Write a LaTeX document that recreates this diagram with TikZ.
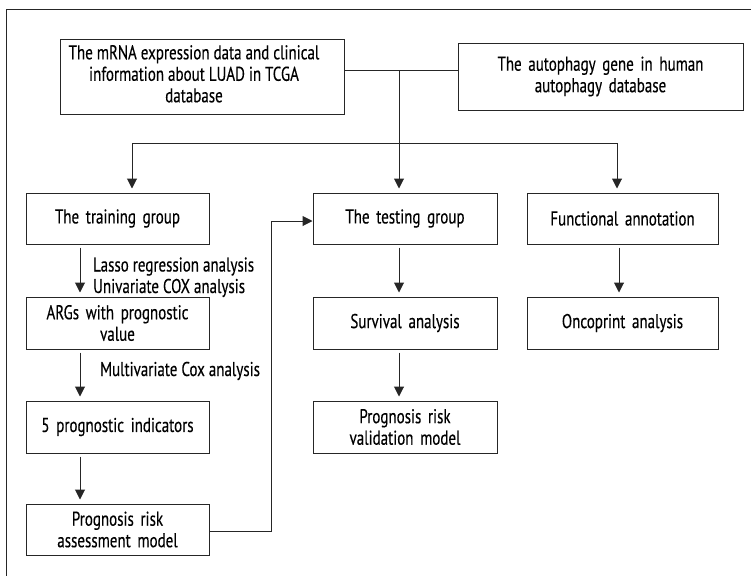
\documentclass[tikz,border=0pt]{standalone}
\usepackage{fontspec}
\setmainfont{PT Sans}[FakeStretch=0.75,FakeBold=0.3]
\usetikzlibrary{arrows.meta}
\begin{document}
\begin{tikzpicture}[x=1pt,y=-1pt,
  box/.style={draw=black!85, line width=1pt, inner sep=0pt, align=center, font=\fontsize{20}{21.5}\selectfont},
  lbl/.style={inner sep=0pt, anchor=base west, font=\fontsize{20}{21.5}\selectfont},
  conn/.style={draw=black!85, line width=1pt},
  arr/.style={conn, -{Triangle[width=10pt,length=10pt]}},
  varr/.style={arr, shorten <=3pt, shorten >=4pt}
]
\useasboundingbox (0,0) rectangle (751,576);
% frame (top and left only)
\draw[conn] (751,9) -- (6,9) -- (6,576);
% top boxes
\node[box, minimum width=284pt, minimum height=75pt] (A) at (202,76.5)
  {\hspace*{-16pt}\begin{tabular}{@{}c@{}}The mRNA expression data and clinical\\information about LUAD in TCGA\\database\end{tabular}};
\node[box, minimum width=285pt, minimum height=67pt, text width=275pt] (B) at (600.5,76.5)
  {The autophagy gene in human\\autophagy database};
% second row
\node[box, minimum width=183pt, minimum height=51pt, text width=175pt] (train) at (117.5,218.5) {The training group};
\node[box, minimum width=184pt, minimum height=51pt, text width=176pt] (test) at (405,218.5) {The testing group};
\node[box, minimum width=191pt, minimum height=51pt, text width=183pt] (func) at (622.5,218.5) {Functional annotation};
% third row
\node[box, minimum width=183pt, minimum height=52pt, text width=175pt] (args) at (117.5,323) {ARGs with prognostic\\value};
\node[box, minimum width=184pt, minimum height=52pt, text width=176pt] (surv) at (405,323) {Survival analysis};
\node[box, minimum width=191pt, minimum height=52pt, text width=183pt] (onco) at (622.5,323) {Oncoprint analysis};
% fourth row
\node[box, minimum width=183pt, minimum height=52pt, text width=175pt] (five) at (117.5,427) {5 prognostic indicators};
\node[box, minimum width=184pt, minimum height=52pt, text width=176pt] (valid) at (405,427) {Prognosis risk\\validation model};
% fifth row
\node[box, minimum width=183pt, minimum height=51pt, text width=175pt] (assess) at (117.5,529.5) {Prognosis risk\\assessment model};
% connectors top
\coordinate (ja) at (A.east |- 0,70);
\coordinate (jb) at (B.west |- 0,70);
\draw[conn] (ja) -- (jb);
\coordinate (jc) at (399,70);
\draw[arr, shorten >=4pt] (jc) -- (jc |- test.north);
\coordinate (hl) at (132,143);
\coordinate (hr) at (617,143);
\draw[conn] (hl) -- (hr);
\draw[arr, shorten >=4pt] (hl) -- (hl |- train.north);
\draw[arr, shorten >=4pt] (hr) -- (hr |- func.north);
% left column
\coordinate (lc) at (80,0);
\draw[varr] (lc |- train.south) -- (lc |- args.north);
\draw[varr] (lc |- args.south) -- (lc |- five.north);
\draw[varr] (lc |- five.south) -- (lc |- assess.north);
\node[lbl] (l1) at (93,271.5) {Lasso regression analysis};
\node[lbl] (l2) at (93,293) {Univariate COX analysis};
\node[lbl] (l3) at (100,376) {Multivariate Cox analysis};
% middle column
\coordinate (mc) at (399,0);
\draw[varr] (mc |- test.south) -- (mc |- surv.north);
\draw[varr] (mc |- surv.south) -- (mc |- valid.north);
% right column
\coordinate (rc) at (619,0);
\draw[varr] (rc |- func.south) -- (rc |- onco.north);
% assessment to testing
\coordinate (a1) at (assess.east |- 0,531);
\coordinate (a2) at (271,531);
\coordinate (a3) at (271,221);
\draw[arr] (a1) -- (a2) -- (a3) -- (a3 -| test.west);
\end{tikzpicture}
\end{document}
